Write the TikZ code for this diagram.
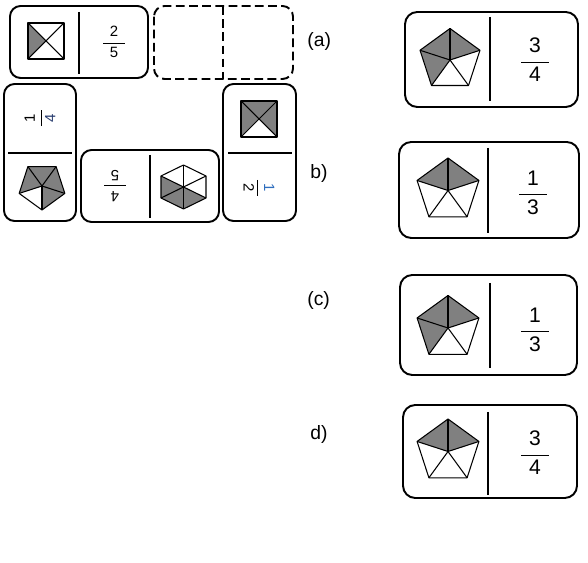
\documentclass[tikz,border=0pt]{standalone}
\usepackage{amsmath}
\usepackage{fontspec}
\setmainfont{Liberation Sans}
\usepackage{tikz}
\usetikzlibrary{positioning}
\definecolor{shadegray}{RGB}{128,128,128}
\definecolor{inkblue}{RGB}{46,110,190}
\definecolor{darkblue}{RGB}{40,60,110}

\begin{document}
\begin{tikzpicture}[x=0.02cm,y=-0.02cm]
	 \tikzstyle{domino}=[draw,line width=1.1pt,rounded corners=6pt]
	 \tikzstyle{bar}=[draw,line width=1.1pt]
	 \tikzstyle{part}=[draw,line width=0.6pt,line join=round]
	 \tikzstyle{shade}=[fill=shadegray]
	 \tikzstyle{small}=[font=\fontsize{8.5}{10}\selectfont,inner sep=0pt]
	 \tikzstyle{big}=[font=\fontsize{12}{14}\selectfont,inner sep=0pt]
	 \tikzstyle{tag}=[font=\fontsize{11}{13}\selectfont,anchor=west,inner sep=0pt]

	 \useasboundingbox (0,0) rectangle (588,563);

	 % the chain of dominoes
	 \draw[domino] (10,6) rectangle (148,78);
	 \draw[bar] (79,12) -- (79,74);
	 \fill[shade] (28,23) -- (46,41) -- (28,59) -- cycle;
	 \draw[part] (28,23) rectangle (64,59);
	 \draw[part] (28,23) -- (64,59) (28,59) -- (64,23);
	 \node[small] (f25) at (114,42) {$\dfrac{\makebox[1.45em]{2}}{\makebox[1.45em]{5}}$};

	 \draw[domino,dashed,dash pattern=on 5pt off 2.5pt] (154,6) rectangle (293,79);
	 \draw[bar,dashed,dash pattern=on 5pt off 2.5pt] (223,6) -- (223,79);

	 \draw[domino] (4,84) rectangle (76,221);
	 \draw[bar] (8,153) -- (72,153);
	 \node[small,rotate=90] (f14) at (40,118) {$\dfrac{\makebox[1.1em]{1}}{\makebox[1.1em]{\textcolor{darkblue}{4}}}$};

	 \draw[domino] (81,150) rectangle (219,222);
	 \draw[bar] (150,155) -- (150,218);
	 \node[small,rotate=180] (f45) at (115,186) {$\dfrac{\makebox[1.45em]{4}}{\makebox[1.45em]{5}}$};
	 \coordinate (hx) at (183.5,187);
	 \coordinate (h0) at (183.5,165);
	 \coordinate (h1) at (206,176);
	 \coordinate (h2) at (206,198);
	 \coordinate (h3) at (183.5,209);
	 \coordinate (h4) at (161,198);
	 \coordinate (h5) at (161,176);
	 \fill[shade] (hx) -- (h2) -- (h3) -- (h4) -- (h5) -- cycle;
	 \draw[part] (h0) -- (h1) -- (h2) -- (h3) -- (h4) -- (h5) -- cycle;
	 \foreach \k in {0,...,5}
	   \draw[part] (hx) -- (h\k);

	 \draw[domino] (223,84) rectangle (296,221);
	 \draw[bar] (228,153) -- (292,153);
	 \fill[shade] (241,101) rectangle (277,137);
	 \fill[white] (241,137) -- (259,119) -- (277,137) -- cycle;
	 \draw[part] (241,101) rectangle (277,137);
	 \draw[part] (241,101) -- (277,137) (241,137) -- (277,101);
	 \node[small,rotate=-90] (f12) at (259,188) {$\dfrac{\makebox[1.1em]{\textcolor{inkblue}{1}}}{\makebox[1.1em]{2}}$};

	 % the four answers
	 \node[tag] (la) at (307,42) {(a)};
	 \node[tag] (lb) at (310,174) {b)};
	 \node[tag] (lc) at (307,301) {(c)};
	 \node[tag] (ld) at (310,434) {d)};

	 \draw[domino,rounded corners=7pt] (405,12) rectangle (578,107);
	 \draw[bar] (490,17) -- (490,101);
	 \node[big] (fa) at (535,60) {$\dfrac{\makebox[1.3em]{3}}{\makebox[1.3em]{4}}$};

	 \draw[domino,rounded corners=7pt] (399,142) rectangle (579,238);
	 \draw[bar] (488,148) -- (488,233);
	 \node[big] (fb) at (533,193) {$\dfrac{\makebox[1.3em]{1}}{\makebox[1.3em]{3}}$};

	 \draw[domino,rounded corners=7pt] (400,275) rectangle (577,375);
	 \draw[bar] (490,283) -- (490,368);
	 \node[big] (fc) at (535,330) {$\dfrac{\makebox[1.3em]{1}}{\makebox[1.3em]{3}}$};

	 \draw[domino,rounded corners=7pt] (403,405) rectangle (577,498);
	 \draw[bar] (488,412) -- (488,495);
	 \node[big] (fd) at (535,453) {$\dfrac{\makebox[1.3em]{3}}{\makebox[1.3em]{4}}$};

	 % pentagons: centre, radius, first corner, grey slices
	 \foreach \name/\cx/\cy/\r/\start/\grey in
	   {pl/42/186/24/90/{1,2,3,4}, pa/450/60/31.5/-90/{0,3,4},
	    pb/448/190.5/32.5/-90/{0,4}, pc/448/328/32.5/-90/{0,3,4},
	    pd/448/451.5/32.5/-90/{0,4}} {
	   \coordinate (\name) at (\cx,\cy);
	   \foreach \k in \grey
	     \fill[shade] (\name) -- +(\start+72*\k:\r) -- +(\start+72+72*\k:\r) -- cycle;
	   \draw[part] (\name) +(\start:\r) -- +(\start+72:\r) -- +(\start+144:\r)
	     -- +(\start+216:\r) -- +(\start+288:\r) -- cycle;
	   \foreach \k in {0,...,4}
	     \draw[part] (\name) -- +(\start+72*\k:\r);
	 }

 \end{tikzpicture}
\end{document}
